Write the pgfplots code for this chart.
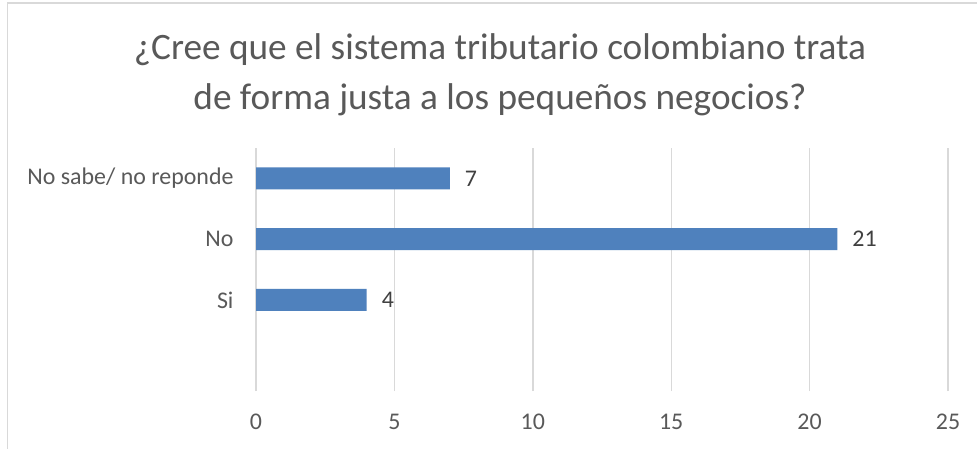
\documentclass[border=0pt]{standalone}
\usepackage{pgfplots}
\pgfplotsset{compat=1.18}
\usepackage{fontspec}
\setmainfont{Carlito}
\definecolor{barblue}{HTML}{4F81BD}
\definecolor{txtgray}{HTML}{595959}
\definecolor{gridgray}{HTML}{D9D9D9}
\begin{document}
\begin{tikzpicture}
\useasboundingbox (0,0) rectangle (977bp,449bp);
\fill[white] (0,0) rectangle (977bp,449bp);
\draw[gridgray, line width=1.2bp] (7.5bp,0) -- (7.5bp,446bp) -- (977bp,446bp);
\node[txtgray, font=\fontsize{37.4}{50}\selectfont, align=center] at (500bp,374bp) {¿Cree que el sistema tributario colombiano trata\\ de forma justa a los pequeños negocios?};
\begin{axis}[
  at={(256bp,58bp)}, anchor=south west,
  scale only axis, width=692bp, height=243bp,
  xbar, bar width=22bp,
  xmin=0, xmax=25, ymin=-0.5, ymax=3.5,
  xtick={0,5,10,15,20,25},
  ytick={1,2,3},
  yticklabels={Si,No,No sabe/ no reponde},
  axis line style={draw=none},
  major tick length=0pt,
  xmajorgrids, grid style={gridgray, line width=1.4bp},
  tick label style={txtgray, font=\fontsize{24}{29}\selectfont},
  /pgf/number format/assume math mode=true,
  xticklabel style={anchor=center, yshift=-31bp},
  yticklabel style={anchor=east, xshift=-19bp},
  nodes near coords,
  every node near coord/.append style={text=black!75, font=\fontsize{24}{29}\selectfont, anchor=west, inner sep=0pt, xshift=15bp},
  clip=false,
]
\addplot[fill=barblue, draw=none] coordinates {(4,1) (21,2) (7,3)};
\end{axis}
\end{tikzpicture}
\end{document}
